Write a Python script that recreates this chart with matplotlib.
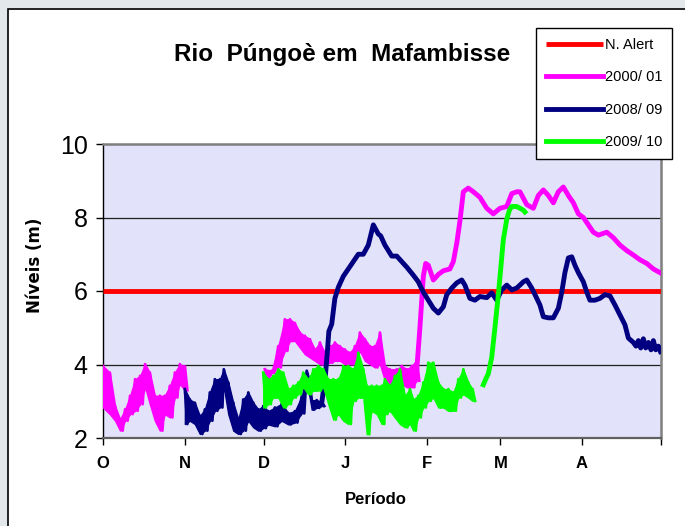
import matplotlib
matplotlib.use("Agg")
import matplotlib.pyplot as plt
from matplotlib.patches import Rectangle

# days counted from 1 October
month_ticks = [0, 31, 61, 92, 123, 151, 182, 212]
month_labels = ['O', 'N', 'D', 'J', 'F', 'M', 'A', '']
alert_level = 6.0

# noisy stretches are read as the high / low edge of the band
# 2000/01
mag_oct_days = [0, 2.6, 4.6, 6.5, 8.4, 10.3, 12.2, 14.1, 16, 17.8, 19.7, 21.6, 23.5, 25.4,
                27.3, 29.2, 31.1]
mag_oct_hi = [3.96, 3.78, 2.87, 2.51, 2.78, 3.15, 3.6, 3.69, 4.01, 3.78, 3.15, 3.15, 3.15, 3.42,
              3.78, 4.01, 3.95]
mag_oct_lo = [2.83, 2.65, 2.47, 2.2, 2.47, 2.65, 2.74, 2.92, 3.38, 2.92, 2.47, 2.2, 2.65, 2.56,
              3.1, 3.47, 3.3]
mag_dec_days = [61.5, 64.1, 66.6, 69.1, 71.05, 72.9, 74.8, 76.7, 78.6, 80.5, 82.4, 84.3, 86.2,
                88.1, 90, 91.9, 93.8, 95.7, 97.6, 99.5, 101.4, 103.3, 105.2, 107.1, 109, 111.6,
                113.5, 115.4, 117.3, 119.2]
mag_dec_hi = [3.87, 3.83, 4.5, 5.23, 5.23, 5.13, 4.87, 4.78, 4.69, 4.41, 4.6, 4.32, 4.5, 4.6,
              4.5, 4.41, 4.32, 4.5, 4.87, 4.69, 4.5, 4.5, 4.87, 3.96, 3.87, 3.87, 3.96, 3.87,
              3.96, 4.13]
mag_dec_lo = [3.47, 3.77, 3.92, 4.37, 4.64, 4.64, 4.46, 4.28, 4.19, 4.1, 4.01, 4.01, 4.05, 4.1,
              4.1, 4.01, 4.01, 4.01, 4.37, 4.1, 4.01, 3.92, 4.01, 3.56, 3.47, 3.65, 3.47, 3.38,
              3.38, 3.56]
mag_days = [119.2, 120.4, 121.7, 122.6, 123.6, 125.5, 127.4, 129.3, 131.8, 133.1, 134.4, 135.6,
            136.9, 138.8, 140.7, 143.2, 145.8, 148.3, 150.8, 153.4, 155.3, 157.2, 158.4, 161,
            163.5, 165.4, 167.3, 169.2, 171.1, 173, 174.9, 176.8, 178.7, 180.6, 182.5, 184.4,
            186.3, 188.2, 191.4, 193.9, 196.4, 199, 201.5, 204, 206.6, 209.1, 211.6]
mag_vals = [3.85, 5.0, 6.4, 6.75, 6.7, 6.3, 6.45, 6.55, 6.6, 6.8, 7.3, 7.9,
            8.7, 8.8, 8.7, 8.55, 8.25, 8.1, 8.25, 8.3, 8.65, 8.7, 8.7, 8.35,
            8.25, 8.6, 8.75, 8.6, 8.4, 8.7, 8.83, 8.6, 8.4, 8.1, 8.0, 7.8,
            7.6, 7.52, 7.6, 7.45, 7.25, 7.1, 6.98, 6.85, 6.75, 6.6, 6.5]

# 2008/09
nav_nov_days = [31.1, 33, 34.9, 36.8, 38.7, 40.6, 42.5, 44.4, 45.9, 47.6, 49.5, 51.4, 53.3,
                55.2, 57.1, 59, 60.9, 62.8, 65.3, 67.9, 70.4, 72.9, 75.5, 77.4, 79.3, 81.2, 83.1]
nav_nov_hi = [3.33, 3.05, 2.96, 2.6, 2.78, 3.24, 3.6, 3.6, 3.87, 3.51, 2.96, 2.51, 3.05,
              3.24, 2.96, 2.78, 2.87, 2.73, 2.83, 2.93, 2.68, 2.73, 3.13, 3.83, 3.03, 3.03, 2.98]
nav_nov_lo = [2.38, 2.47, 2.38, 2.11, 2.2, 2.47, 2.74, 2.83, 3.38, 2.65, 2.2, 2.11, 2.2,
              2.47, 2.29, 2.2, 2.27, 2.37, 2.32, 2.47, 2.37, 2.42, 2.67, 3.57, 2.77, 2.82, 2.87]
nav_days = [83.1, 84.5, 85.3, 85.8, 86.9, 88.1, 89.4, 91.3, 93.2, 95.1, 97, 98.9, 100.8, 102.7,
            104.6, 105.5, 107.1, 109.7, 111.6, 113.5, 115.4, 117.9, 119.8, 121.7, 123.6, 125.5,
            127.4, 129.3, 130.6, 132.5, 134.4, 136.3, 137.5, 139.4, 141.3, 143.2, 145.8, 147.7,
            149.6, 151.5, 153.4, 155.3, 157.2, 159.7, 161, 162.9, 164.8, 166, 167.3, 169.2,
            171.1, 173, 174.3, 175.5, 176.8, 178.1, 179.3, 180.6, 182.5, 183.8, 185, 186.9,
            188.8, 190.7, 192.6, 194.5, 196.4, 198.3, 199.6, 201.5, 202.5, 203.4, 204.3, 205.3,
            206.2, 207.2, 208.2, 209.1, 210, 211, 211.8]
nav_vals = [2.95, 3.7, 4.4, 4.9, 5.1, 5.8, 6.1, 6.4, 6.6, 6.8, 7.0, 7.0, 7.25, 7.8,
            7.55, 7.5, 7.25, 6.95, 6.95, 6.8, 6.65, 6.43, 6.25, 5.97, 5.75, 5.53,
            5.4, 5.57, 5.9, 6.08, 6.22, 6.3, 6.16, 5.8, 5.75, 5.85, 5.82, 5.95,
            5.75, 6.03, 6.16, 6.03, 6.08, 6.25, 6.3, 6.08, 5.8, 5.62, 5.3, 5.27,
            5.27, 5.53, 5.97, 6.5, 6.9, 6.93, 6.7, 6.5, 6.25, 5.97, 5.75, 5.75,
            5.8, 5.9, 5.87, 5.62, 5.35, 5.08, 4.72, 4.6, 4.5, 4.65, 4.45, 4.7,
            4.45, 4.6, 4.4, 4.65, 4.4, 4.5, 4.35]

# 2009/10
grn_days = [60.9, 62.8, 64.7, 66.6, 68.5, 70.4, 72.3, 74.2, 76.1, 78.0, 79.9, 81.8, 83.7, 85.6,
            87.5, 89.4, 91.3, 93.2, 95.1, 97.0, 98.9, 100.2, 102.1, 104.0, 105.9, 107.1, 109.0,
            110.9, 112.8, 114.7, 116.6, 117.9, 119.8, 121.7, 123.6, 125.5, 127.4, 129.3, 131.2,
            133.1, 135.0, 136.9, 138.8, 140.4]
grn_hi = [3.78, 3.6, 3.69, 3.87, 3.78, 3.33, 3.42, 3.51, 3.78, 3.6, 3.87, 3.96, 3.87, 3.6,
          3.6, 3.6, 3.96, 3.96, 3.87, 4.32, 3.87, 3.42, 3.42, 3.42, 3.42, 3.6, 3.42,
          3.69, 3.87, 3.15, 3.33, 3.05, 3.15, 3.51, 4.05, 4.05, 3.51, 3.33, 3.33,
          3.24, 3.6, 3.87, 3.51, 3.33]
grn_lo = [2.83, 2.92, 3.1, 3.1, 2.83, 2.92, 3.1, 3.19, 3.38, 3.19, 3.29, 3.29, 3.38, 2.92,
          2.5, 2.65, 2.47, 2.38, 3.01, 3.1, 3.1, 2.1, 2.74, 2.65, 2.38, 2.65, 2.74,
          2.56, 2.38, 2.29, 2.38, 2.2, 2.56, 2.83, 3.01, 3.1, 2.83, 2.83, 2.74,
          2.74, 3.1, 3.19, 3.1, 3.01]
grn_mar_days = [144.5, 145.4, 146.4, 147.7, 148.9, 150.2, 151.1, 152.1, 153.4, 154.4, 155.3,
                157.2, 159.7, 160.3]
grn_mar_vals = [3.45, 3.6, 3.75, 4.2, 5.0, 5.9, 6.6, 7.4, 7.95, 8.2, 8.3, 8.3, 8.2, 8.15]


def band(ax, days, hi, lo, color, z):
    # the daily swings show up as a ribbon with ragged edges
    ax.fill_between(days, hi, lo, facecolor=color, edgecolor=color, lw=1.0, zorder=z)
    xs, ys = [], []
    for d, h, l in zip(days, hi, lo):
        xs += [d, d + 0.95]
        ys += [h, l]
    ax.plot(xs, ys, color=color, lw=2.0, zorder=z)


W, H = 685, 526
fig = plt.figure(figsize=(W / 100, H / 100), dpi=100, facecolor='#e3e9ea')
fig.patches.append(Rectangle((8 / W, -0.1), 1.2, 1.1 - 8.5 / H, transform=fig.transFigure,
                             facecolor='white', edgecolor='black', lw=1.2, zorder=-10))

ax = fig.add_axes([103 / W, 1 - 438 / H, 558 / W, 294 / H])
ax.set_facecolor('#e2e2fa')

lw = 3.5
pink, navy, green = '#ff00ff', '#000080', '#00ff00'
ax.plot([0, 212], [alert_level, alert_level], color='#ff0000', lw=lw, label='N. Alert',
        solid_capstyle='butt', zorder=3)

band(ax, mag_oct_days, mag_oct_hi, mag_oct_lo, pink, 4)
band(ax, mag_dec_days, mag_dec_hi, mag_dec_lo, pink, 4)
ax.plot(mag_days, mag_vals, color=pink, lw=lw, label='2000/ 01', zorder=4)

band(ax, nav_nov_days, nav_nov_hi, nav_nov_lo, navy, 5)
ax.plot(nav_days, nav_vals, color=navy, lw=lw, label='2008/ 09', zorder=5)

band(ax, grn_days, grn_hi, grn_lo, green, 6)
ax.plot(grn_mar_days, grn_mar_vals, color=green, lw=lw, label='2009/ 10', zorder=6)

ax.set_xlim(0, 212)
ax.set_ylim(2, 10)
ax.set_yticks([2, 4, 6, 8, 10])
ax.set_xticks(month_ticks)
ax.set_xticklabels(month_labels, fontsize=12, fontweight='bold', family='Liberation Sans')
for t in ax.get_yticklabels():
    t.set_fontsize(18)
    t.set_family('Liberation Sans')
ax.yaxis.grid(True, color='#202020', lw=0.9)
ax.set_axisbelow(True)
ax.tick_params(axis='y', direction='out', length=5, width=1, pad=6)
ax.tick_params(axis='x', direction='out', length=5, width=1, pad=8)

ax.spines['left'].set_color('black')
ax.spines['left'].set_linewidth(1)
ax.spines['bottom'].set_color('#606060')
ax.spines['bottom'].set_linewidth(1.6)
ax.spines['top'].set_color('#808080')
ax.spines['top'].set_linewidth(1.8)
ax.spines['right'].set_color('#808080')
ax.spines['right'].set_linewidth(1.8)

fig.text(342 / W, 1 - 54 / H, 'Rio  Púngoè em  Mafambisse', ha='center', va='center',
         fontsize=17.5, fontweight='bold', family='Liberation Sans')
fig.text(376 / W, 1 - 500 / H, 'Período', ha='center', va='center',
         fontsize=12, fontweight='bold', family='Liberation Sans')
fig.text(35 / W, 1 - 265 / H, 'Níveis (m)', ha='center', va='center', rotation=90,
         fontsize=12, fontweight='heavy', family='DejaVu Sans')

leg = fig.legend(loc='upper left', bbox_to_anchor=(536 / W, 1 - 28 / H), fancybox=False,
                 edgecolor='black', framealpha=1, borderaxespad=0, handlelength=3.9,
                 handletextpad=0.1, labelspacing=1.25, borderpad=0.7,
                 prop={'family': 'Liberation Sans', 'size': 10.5})
leg.get_frame().set_linewidth(1)

fig.savefig('out.png', dpi=100, facecolor=fig.get_facecolor())
